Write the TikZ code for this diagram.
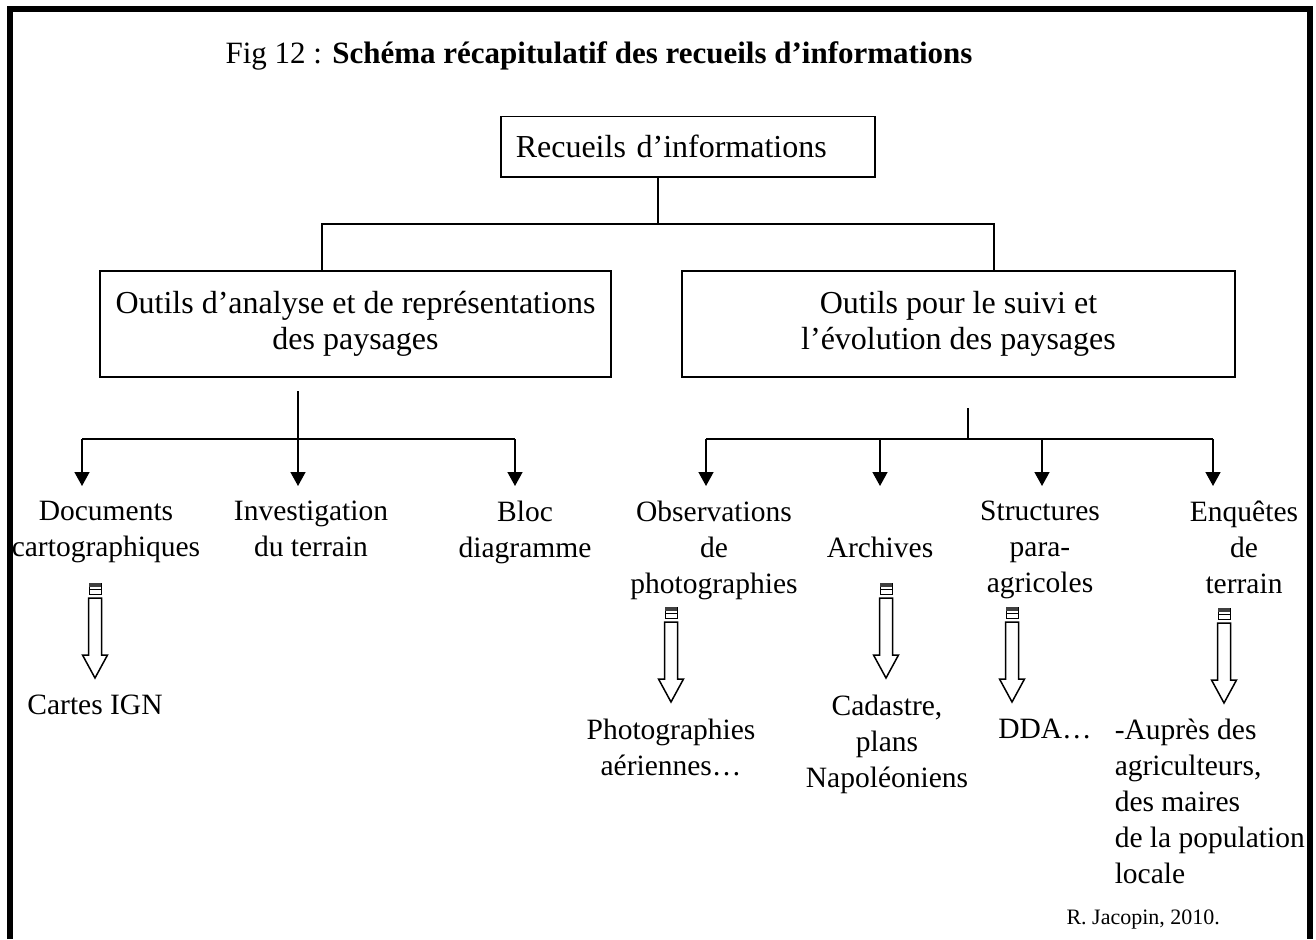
\documentclass[tikz,border=0pt]{standalone}
\usepackage{fontspec}
\setmainfont{Liberation Serif}
\usetikzlibrary{arrows.meta,positioning}

\begin{document}
\begin{tikzpicture}[x=1pt,y=-1pt,line width=1.5pt,
    >={Triangle[width=15pt,length=14pt]},
    every node/.style={font=\fontsize{29.5}{36}\selectfont},
    box/.style={draw,inner sep=0pt,align=center,font=\fontsize{32}{36}\selectfont},
    lbl/.style={inner sep=0pt,align=center,anchor=north},
    drop/.style={->,shorten >=14pt},
    hollow arrow/.pic={
      \draw[line width=1pt] (-6,0) rectangle (6,11);
      \fill[black!75] (-6,0) rectangle (6,3.5);
      \draw[line width=1pt] (-6,6.5) -- (6,6.5);
      \draw (-6.5,15) -- (-6.5,72) -- (-12.5,72) -- (0,95) -- (12.5,72)
        -- (6.5,72) -- (6.5,15) -- cycle;
    }]
  \useasboundingbox (0,0) rectangle (1316,939);
  % cadre
  \draw[line width=6pt] (10,939) -- (10,9) -- (1310,9) -- (1310,939);

  \node[anchor=base,font=\fontsize{31}{36}\selectfont] (titre) at (599,64)
    {Fig 12 : \textbf{Schéma récapitulatif des recueils d’informations}};

  % niveau 1 et 2
  \node[box,anchor=north west,minimum width=374pt,minimum height=60pt,
    text width=344pt,align=left] (recueil) at (500,116) {Recueils d’informations};
  \node[box,minimum width=511pt,minimum height=106pt] (analyse) at (355.5,324)
    {Outils d’analyse et de représentations\\des paysages};
  \node[box,minimum width=553pt,minimum height=106pt] (suivi) at (958.5,324)
    {Outils pour le suivi et\\l’évolution des paysages};

  \coordinate (jR) at (658,224);
  \coordinate (jRa) at (322,224);
  \coordinate (jRb) at (994,224);
  \draw (recueil.south -| jR) -- (jR);
  \draw (analyse.north -| jRa) -- (jRa) -- (jRb) -- (suivi.north -| jRb);

  % analyse
  \node[lbl] (doc) at (106,500) {Documents\\cartographiques};
  \node[lbl] (invest) at (311,500) {Investigation\\du terrain};
  \node[lbl] (bloc) at (525,500) {Bloc\\diagramme};

  \coordinate (aTop) at (298,391);
  \coordinate (aJ) at (298,439);
  \coordinate (aL) at (82,439);
  \coordinate (aR) at (515,439);
  \draw (aTop) -- (aJ);
  \draw (aL) -- (aR);
  \draw[drop] (aL) -- (aL |- doc.north);
  \draw[drop] (aJ) -- (aJ |- invest.north);
  \draw[drop] (aR) -- (aR |- bloc.north);

  % suivi
  \node[lbl] (obs) at (714,500) {Observations\\de\\photographies};
  \node[lbl] (arch) at (880,536) {Archives};
  \node[lbl] (struct) at (1040,500) {Structures\\para-\\agricoles};
  \node[lbl] (enq) at (1244,500) {Enquêtes\\de\\terrain};

  \coordinate (sTop) at (968,408);
  \coordinate (sJ) at (968,439);
  \coordinate (sA) at (706,439);
  \coordinate (sB) at (880,439);
  \coordinate (sC) at (1042,439);
  \coordinate (sD) at (1213,439);
  \draw (sTop) -- (sJ);
  \draw (sA) -- (sD);
  \draw[drop] (sA) -- (sA |- obs.north);
  \draw[drop] (sB) -- (sB |- obs.north);
  \draw[drop] (sC) -- (sC |- struct.north);
  \draw[drop] (sD) -- (sD |- enq.north);

  % fleches creuses
  \pic at (95,583) {hollow arrow};
  \pic at (671,607) {hollow arrow};
  \pic at (886,583) {hollow arrow};
  \pic at (1012,607) {hollow arrow};
  \pic at (1224,608) {hollow arrow};

  \node[lbl] (ign) at (95,694) {Cartes IGN};
  \node[lbl] (photo) at (671,718) {Photographies\\aériennes…};
  \node[lbl] (cad) at (887,694) {Cadastre,\\plans\\Napoléoniens};
  \node[lbl] (dda) at (1045,718) {DDA…};
  \node[lbl,align=left,anchor=north west] (aupres) at (1114,718)
    {-Auprès des\\agriculteurs,\\des maires\\de la population\\locale};

  \node[anchor=base east,font=\fontsize{22}{26}\selectfont] (auteur) at (1224,924)
    {R. Jacopin, 2010.};
\end{tikzpicture}
\end{document}
